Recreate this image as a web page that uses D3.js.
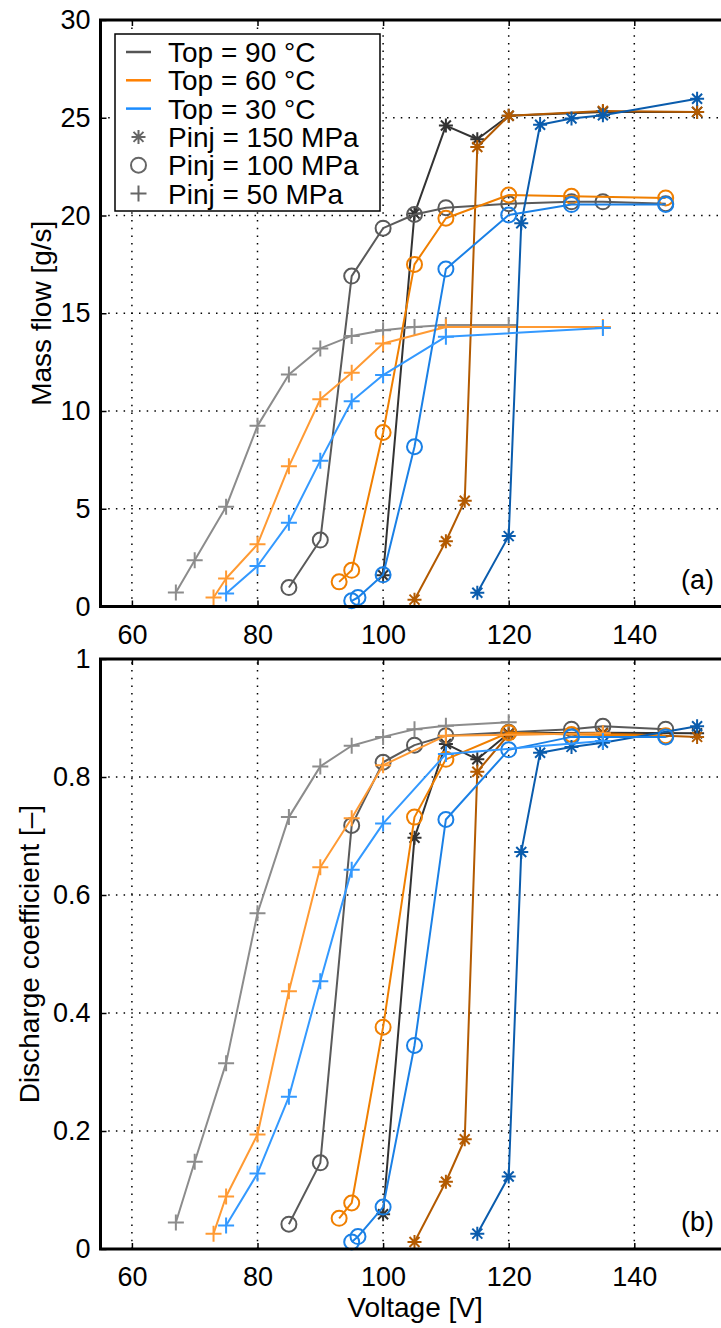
<!DOCTYPE html>
<html>
<head>
<meta charset="utf-8">
<script src="https://cdn.jsdelivr.net/npm/d3@7"></script>
<style>
  body { margin: 0; background: #fff; }
  svg { display: block; font-family: "Liberation Sans", Arial, Helvetica, sans-serif; }
  .tick text { font-size: 27px; fill: #000; }
  .grid line { stroke: #000; stroke-width: 1.5; stroke-dasharray: 1.5,6.2; }
</style>
</head>
<body>
<div class="chart"></div>
<script>
// tick values
var xTicks = [60, 80, 100, 120, 140, 160];
var flowTicks = [0, 5, 10, 15, 20, 25, 30];
var cdTicks = [0, 0.2, 0.4, 0.6, 0.8, 1];

// Top = 90 C
var v90_150 = [100, 105, 110, 115, 120, 135, 150];
var flow90_150 = [1.6, 20.1, 24.6, 23.9, 25.1, 25.3, 25.3];
var cd90_150 = [0.059, 0.697, 0.856, 0.830, 0.874, 0.875, 0.874];

var v90_100 = [85, 90, 95, 100, 105, 110, 120, 130, 135, 145];
var flow90_100 = [0.97, 3.4, 16.9, 19.35, 20.05, 20.4, 20.6, 20.7, 20.7, 20.6];
var cd90_100 = [0.042, 0.146, 0.718, 0.825, 0.854, 0.870, 0.876, 0.881, 0.886, 0.881];

var v90_50 = [67, 70, 75, 80, 85, 90, 95, 100, 105, 110, 120];
var flow90_50 = [0.71, 2.36, 5.1, 9.24, 11.87, 13.2, 13.84, 14.13, 14.3, 14.4, 14.4];
var cd90_50 = [0.045, 0.148, 0.315, 0.569, 0.732, 0.818, 0.853, 0.868, 0.881, 0.887, 0.893];

// Top = 60 C
var v60_150 = [105, 110, 113, 115, 120, 135, 150];
var flow60_150 = [0.35, 3.34, 5.41, 23.5, 25.1, 25.35, 25.3];
var cd60_150 = [0.012, 0.114, 0.186, 0.809, 0.872, 0.874, 0.868];

var v60_100 = [93, 95, 100, 105, 110, 120, 130, 145];
var flow60_100 = [1.26, 1.85, 8.9, 17.5, 19.86, 21.05, 20.98, 20.9];
var cd60_100 = [0.052, 0.078, 0.376, 0.732, 0.830, 0.875, 0.872, 0.870];

var v60_50 = [73, 75, 80, 85, 90, 95, 100, 110, 135];
var flow60_50 = [0.46, 1.43, 3.18, 7.17, 10.6, 11.96, 13.45, 14.3, 14.3];
var cd60_50 = [0.026, 0.089, 0.194, 0.437, 0.647, 0.730, 0.820, 0.870, 0.874];

// Top = 30 C
var v30_150 = [115, 120, 122, 125, 130, 135, 150];
var flow30_150 = [0.7, 3.6, 19.6, 24.64, 24.96, 25.13, 25.97];
var cd30_150 = [0.026, 0.123, 0.673, 0.841, 0.851, 0.858, 0.886];

var v30_100 = [95, 96, 100, 105, 110, 120, 130, 145];
var flow30_100 = [0.29, 0.46, 1.62, 8.17, 17.26, 20.03, 20.56, 20.56];
var cd30_100 = [0.012, 0.021, 0.071, 0.345, 0.728, 0.846, 0.868, 0.868];

var v30_50 = [75, 80, 85, 90, 95, 100, 110, 135];
var flow30_50 = [0.66, 2.07, 4.28, 7.46, 10.5, 11.84, 13.8, 14.24];
var cd30_50 = [0.040, 0.128, 0.258, 0.454, 0.643, 0.721, 0.839, 0.861];

var legendLabels = ["Top = 90 °C", "Top = 60 °C", "Top = 30 °C",
                    "Pinj = 150 MPa", "Pinj = 100 MPa", "Pinj = 50 MPa"];

var series = [
    { v: v90_150, flow: flow90_150, cd: cd90_150, marker: "star", color: "#333333" },
    { v: v90_100, flow: flow90_100, cd: cd90_100, marker: "circle", color: "#5a5a5a" },
    { v: v90_50, flow: flow90_50, cd: cd90_50, marker: "plus", color: "#8c8c8c" },
    { v: v60_150, flow: flow60_150, cd: cd60_150, marker: "star", color: "#b35a00" },
    { v: v60_100, flow: flow60_100, cd: cd60_100, marker: "circle", color: "#f07f00" },
    { v: v60_50, flow: flow60_50, cd: cd60_50, marker: "plus", color: "#ff9a33" },
    { v: v30_150, flow: flow30_150, cd: cd30_150, marker: "star", color: "#0a5cad" },
    { v: v30_100, flow: flow30_100, cd: cd30_100, marker: "circle", color: "#1a80e6" },
    { v: v30_50, flow: flow30_50, cd: cd30_50, marker: "plus", color: "#3399ff" }
];

var svgWidth = 721;
var svgHeight = 1328;

var svg = d3.select(".chart")
    .append("svg")
    .attr("width", svgWidth)
    .attr("height", svgHeight);

var xScale = d3.scaleLinear().domain([55, 155]).range([100.5, 728.5]);
var yFlow = d3.scaleLinear().domain([0, 30]).range([606.5, 20]);
var yCd = d3.scaleLinear().domain([0, 1]).range([1249, 659]);

function markerPath(type) {
    if (type === "plus") {
        var p = 8;
        return "M" + (-p) + ",0H" + p + "M0," + (-p) + "V" + p;
    }
    if (type === "star") {
        var s = 7, d = 5;
        return "M" + (-s) + ",0H" + s + "M0," + (-s) + "V" + s +
            "M" + (-d) + "," + (-d) + "L" + d + "," + d +
            "M" + (-d) + "," + d + "L" + d + "," + (-d);
    }
    return null;
}

function drawMarker(sel, type, color) {
    if (type === "circle") {
        sel.append("circle")
            .attr("r", 7.5)
            .attr("fill", "none")
            .attr("stroke", color)
            .attr("stroke-width", 2);
    } else {
        sel.append("path")
            .attr("d", markerPath(type))
            .attr("fill", "none")
            .attr("stroke", color)
            .attr("stroke-width", 2);
    }
}

function drawPanel(yScale, key, yTicks, fmt, ylabel, labelX, tag) {
    var g = svg.append("g");
    var y0 = yScale.range()[0], y1 = yScale.range()[1];
    var x0 = xScale.range()[0], x1 = xScale.range()[1];

    // dotted grid
    var grid = g.append("g").attr("class", "grid");
    grid.selectAll(".vg")
        .data(xTicks.filter(function(t) { return t > 55 && t < 155; }))
        .enter().append("line")
        .attr("x1", function(d) { return xScale(d); })
        .attr("x2", function(d) { return xScale(d); })
        .attr("y1", y0).attr("y2", y1);
    grid.selectAll(".hg")
        .data(yTicks.slice(1, -1))
        .enter().append("line")
        .attr("x1", x0).attr("x2", x1)
        .attr("y1", function(d) { return yScale(d); })
        .attr("y2", function(d) { return yScale(d); });

    var line = d3.line()
        .x(function(d) { return xScale(d[0]); })
        .y(function(d) { return yScale(d[1]); });

    series.forEach(function(s) {
        var pts = s.v.map(function(v, i) { return [v, s[key][i]]; });
        g.append("path")
            .datum(pts)
            .attr("d", line)
            .attr("fill", "none")
            .attr("stroke", s.color)
            .attr("stroke-width", 2)
            .attr("stroke-linejoin", "round");
        g.selectAll(null)
            .data(pts)
            .enter().append("g")
            .attr("transform", function(d) { return "translate(" + xScale(d[0]) + "," + yScale(d[1]) + ")"; })
            .each(function() { drawMarker(d3.select(this), s.marker, s.color); });
    });

    // axes with inward ticks
    var bottom = d3.axisBottom(xScale).tickValues(xTicks.slice(0, -1)).tickSize(-6).tickPadding(18).tickFormat(d3.format("d"));
    var top = d3.axisTop(xScale).tickValues(xTicks.slice(0, -1)).tickSize(-6).tickFormat("");
    var left = d3.axisLeft(yScale).tickValues(yTicks).tickSize(-6).tickPadding(10).tickFormat(fmt);

    var gb = g.append("g").attr("transform", "translate(0," + y0 + ")").call(bottom);
    var gt = g.append("g").attr("transform", "translate(0," + y1 + ")").call(top);
    var gl = g.append("g").attr("transform", "translate(" + x0 + ",0)").call(left);
    [gb, gt, gl].forEach(function(a) {
        a.select(".domain").remove();
        a.selectAll(".tick line").attr("stroke", "#000").attr("stroke-width", 1.5);
    });

    // thick box
    g.append("path")
        .attr("d", "M" + x1 + "," + y1 + "H" + x0 + "V" + y0 + "H" + x1)
        .attr("fill", "none")
        .attr("stroke", "#000")
        .attr("stroke-width", 3);

    g.append("text")
        .attr("class", "ylabel")
        .attr("transform", "translate(" + labelX + "," + ((y0 + y1) / 2) + ") rotate(-90)")
        .attr("text-anchor", "middle")
        .attr("font-size", 28)
        .text(ylabel);

    g.append("text")
        .attr("x", 714)
        .attr("y", y0 - 18)
        .attr("text-anchor", "end")
        .attr("font-size", 27)
        .text(tag);
}

drawPanel(yFlow, "flow", flowTicks, d3.format("d"), "Mass flow [g/s]", 51, "(a)");
drawPanel(yCd, "cd", cdTicks, function(d) { return (d === 0 || d === 1) ? String(d) : d.toFixed(1); },
    "Discharge coefficient [–]", 39, "(b)");

svg.append("text")
    .attr("x", 415)
    .attr("y", 1317)
    .attr("text-anchor", "middle")
    .attr("font-size", 28)
    .text("Voltage [V]");

// legend
var legend = svg.append("g");
legend.append("rect")
    .attr("x", 115).attr("y", 34)
    .attr("width", 265).attr("height", 177)
    .attr("fill", "#fff")
    .attr("stroke", "#000")
    .attr("stroke-width", 1.5);

var legendColors = ["#555555", "#ff8000", "#1a8cff"];
var legendMarkers = ["star", "circle", "plus"];
var rows = legend.selectAll(".row")
    .data(legendLabels)
    .enter().append("g")
    .attr("transform", function(d, i) { return "translate(0," + (52 + i * 28.3) + ")"; });

rows.each(function(d, i) {
    var r = d3.select(this);
    if (i < 3) {
        r.append("line")
            .attr("x1", 126).attr("x2", 151)
            .attr("stroke", legendColors[i])
            .attr("stroke-width", 2.5);
    } else {
        var m = r.append("g").attr("transform", "translate(138.5,0)");
        drawMarker(m, legendMarkers[i - 3], "#666666");
    }
    r.append("text")
        .attr("x", 168)
        .attr("dy", "0.36em")
        .attr("font-size", 28)
        .text(d);
});
</script>
</body>
</html>
